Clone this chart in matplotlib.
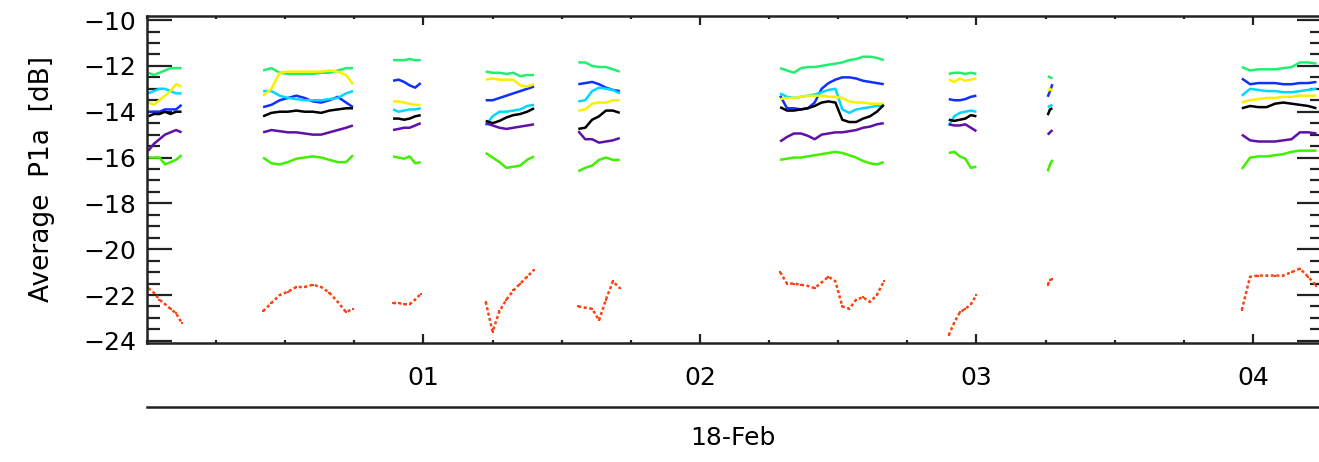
import numpy as np
import matplotlib
matplotlib.use("Agg")
import matplotlib.pyplot as plt
from matplotlib.lines import Line2D
from matplotlib.ticker import MultipleLocator

# time of day (hours after 00 UT, 18-Feb), one list per data segment
hours = [
    [0.005, 0.025, 0.045, 0.065, 0.085, 0.105, 0.125],
    [0.42, 0.45, 0.48, 0.51, 0.54, 0.57, 0.60, 0.63, 0.66, 0.69, 0.72, 0.745],
    [0.89, 0.91, 0.93, 0.95, 0.97, 0.99],
    [1.225, 1.25, 1.275, 1.30, 1.325, 1.35, 1.375, 1.40],
    [1.56, 1.585, 1.61, 1.635, 1.66, 1.685, 1.71],
    [2.29, 2.315, 2.34, 2.365, 2.39, 2.415, 2.44, 2.465, 2.49, 2.515, 2.54, 2.565, 2.59, 2.615, 2.64, 2.665],
    [2.90, 2.92, 2.94, 2.96, 2.98, 3.00],
    [3.258, 3.266, 3.275],
    [3.96, 3.99, 4.02, 4.05, 4.08, 4.11, 4.14, 4.17, 4.20, 4.23],
]

# average P1a [dB] per channel
spring = [
    [-12.3, -12.4, -12.3, -12.2, -12.1, -12.1, -12.1],
    [-12.2, -12.1, -12.3, -12.35, -12.35, -12.35, -12.35, -12.3, -12.3, -12.2, -12.1, -12.1],
    [-11.75, -11.75, -11.75, -11.7, -11.75, -11.75],
    [-12.25, -12.3, -12.3, -12.35, -12.3, -12.45, -12.4, -12.4],
    [-11.85, -11.85, -12.0, -12.05, -12.05, -12.15, -12.25],
    [-12.1, -12.2, -12.3, -12.1, -12.05, -12.05, -12.0, -11.95, -11.9, -11.85, -11.75, -11.7, -11.6, -11.6, -11.65, -11.75],
    [-12.35, -12.3, -12.3, -12.35, -12.3, -12.35],
    [-12.45, -12.5, -12.55],
    [-12.05, -12.2, -12.15, -12.15, -12.15, -12.1, -12.05, -11.85, -11.85, -11.9],
]
blue = [
    [-14.0, -14.0, -14.0, -13.9, -13.9, -13.9, -13.7],
    [-13.8, -13.7, -13.5, -13.4, -13.3, -13.4, -13.55, -13.6, -13.5, -13.35, -13.6, -13.8],
    [-12.65, -12.6, -12.7, -12.85, -12.95, -12.75],
    [-13.5, -13.5, -13.4, -13.3, -13.2, -13.1, -13.0, -12.9],
    [-12.8, -12.75, -12.7, -12.8, -12.95, -13.05, -13.1],
    [-13.3, -13.85, -13.85, -13.9, -13.85, -13.6, -13.0, -12.75, -12.6, -12.5, -12.5, -12.55, -12.65, -12.7, -12.75, -12.8],
    [-13.45, -13.5, -13.5, -13.45, -13.35, -13.3],
    [-13.35, -13.1, -12.8],
    [-12.55, -12.8, -12.75, -12.75, -12.75, -12.8, -12.8, -12.75, -12.75, -12.7],
]
cyan = [
    [-13.2, -13.1, -13.0, -13.0, -13.1, -13.2, -13.2],
    [-13.1, -13.1, -13.3, -13.4, -13.45, -13.5, -13.5, -13.5, -13.45, -13.4, -13.2, -13.1],
    [-13.9, -14.0, -13.95, -13.9, -13.9, -13.85],
    [-14.6, -14.2, -14.0, -14.0, -13.95, -13.9, -13.75, -13.7],
    [-13.55, -13.5, -13.1, -12.95, -13.0, -13.05, -13.2],
    [-13.2, -13.35, -13.4, -13.35, -13.3, -13.25, -13.15, -13.05, -13.0, -13.9, -14.05, -13.9, -13.85, -13.8, -13.75, -13.75],
    [-14.6, -14.2, -14.05, -14.0, -13.95, -14.0],
    [-13.8, -13.75, -13.7],
    [-13.3, -13.0, -13.05, -13.1, -13.1, -13.15, -13.15, -13.1, -13.05, -13.0],
]
yellow = [
    [-13.6, -13.7, -13.5, -13.3, -13.1, -12.8, -12.9],
    [-13.3, -13.0, -12.3, -12.25, -12.25, -12.25, -12.25, -12.25, -12.2, -12.25, -12.4, -12.8],
    [-13.55, -13.55, -13.6, -13.65, -13.7, -13.7],
    [-12.6, -12.55, -12.6, -12.6, -12.6, -12.85, -12.9, -12.8],
    [-13.95, -13.9, -13.65, -13.6, -13.6, -13.5, -13.5],
    [-13.45, -13.4, -13.4, -13.35, -13.3, -13.3, -13.3, -13.35, -13.35, -13.4, -13.55, -13.6, -13.6, -13.65, -13.65, -13.65],
    [-12.6, -12.7, -12.55, -12.65, -12.6, -12.55],
    [-13.1, -13.0, -13.1],
    [-13.6, -13.5, -13.45, -13.4, -13.4, -13.35, -13.35, -13.3, -13.3, -13.3],
]
black = [
    [-14.2, -14.1, -14.1, -14.0, -14.1, -14.0, -14.0],
    [-14.2, -14.05, -14.0, -14.0, -13.95, -14.0, -14.0, -14.05, -13.95, -13.9, -13.85, -13.85],
    [-14.3, -14.3, -14.35, -14.3, -14.2, -14.15],
    [-14.4, -14.5, -14.4, -14.25, -14.15, -14.1, -14.0, -13.85],
    [-14.75, -14.7, -14.35, -14.2, -13.95, -13.95, -14.05],
    [-13.8, -13.95, -13.95, -13.9, -13.85, -13.75, -13.6, -13.55, -13.6, -14.35, -14.45, -14.45, -14.3, -14.2, -14.0, -13.7],
    [-14.35, -14.4, -14.35, -14.3, -14.15, -14.2],
    [-14.15, -13.9, -13.85],
    [-13.85, -13.75, -13.8, -13.8, -13.65, -13.6, -13.65, -13.7, -13.75, -13.85],
]
purple = [
    [-15.7, -15.4, -15.2, -15.0, -14.9, -14.8, -14.9],
    [-14.9, -14.8, -14.85, -14.9, -14.9, -14.95, -15.0, -15.0, -14.9, -14.8, -14.7, -14.6],
    [-14.8, -14.75, -14.7, -14.7, -14.6, -14.5],
    [-14.5, -14.6, -14.7, -14.75, -14.7, -14.65, -14.6, -14.55],
    [-14.85, -15.2, -15.2, -15.35, -15.3, -15.25, -15.15],
    [-15.3, -15.1, -14.95, -14.95, -15.05, -15.2, -15.0, -14.95, -14.9, -14.9, -14.85, -14.8, -14.7, -14.65, -14.55, -14.5],
    [-14.55, -14.6, -14.6, -14.55, -14.7, -14.85],
    [-15.0, -14.9, -14.8],
    [-15.0, -15.25, -15.3, -15.3, -15.3, -15.25, -15.2, -14.9, -14.9, -14.95],
]
green = [
    [-16.0, -16.0, -16.0, -16.3, -16.2, -16.1, -15.9],
    [-16.0, -16.25, -16.3, -16.2, -16.05, -16.0, -15.95, -16.0, -16.1, -16.2, -16.2, -15.9],
    [-15.95, -16.0, -16.05, -15.95, -16.25, -16.2],
    [-15.8, -16.0, -16.2, -16.45, -16.4, -16.35, -16.1, -15.95],
    [-16.6, -16.45, -16.35, -16.1, -16.0, -16.1, -16.1],
    [-16.1, -16.05, -16.0, -16.0, -15.95, -15.9, -15.85, -15.8, -15.75, -15.8, -15.9, -16.0, -16.15, -16.25, -16.3, -16.2],
    [-15.8, -15.75, -15.95, -16.05, -16.45, -16.4],
    [-16.6, -16.3, -16.1],
    [-16.5, -16.0, -15.95, -15.95, -15.9, -15.85, -15.75, -15.7, -15.7, -15.7],
]
orange = [
    [-21.7, -21.9, -22.2, -22.4, -22.6, -22.8, -23.2],
    [-22.7, -22.35, -22.0, -21.85, -21.65, -21.65, -21.55, -21.65, -21.9, -22.3, -22.75, -22.6],
    [-22.35, -22.35, -22.4, -22.4, -22.2, -21.95],
    [-22.3, -23.6, -22.7, -22.2, -21.8, -21.5, -21.2, -20.9],
    [-22.5, -22.55, -22.6, -23.1, -22.2, -21.4, -21.7],
    [-21.0, -21.5, -21.5, -21.55, -21.6, -21.7, -21.45, -21.2, -21.4, -22.5, -22.6, -22.2, -22.1, -22.3, -22.0, -21.4],
    [-23.75, -23.2, -22.75, -22.6, -22.4, -22.0],
    [-21.55, -21.35, -21.3],
    [-22.65, -21.2, -21.15, -21.15, -21.15, -21.15, -21.0, -20.85, -21.2, -21.6],
]

xtick_pos = [1, 2, 3, 4]
xtick_labels = ["01", "02", "03", "04"]
date_label = "18-Feb"

plt.rcParams["font.family"] = "DejaVu Sans"

W, H = 1319, 462
fig = plt.figure(figsize=(W / 100, H / 100), dpi=100)
ax = fig.add_axes([147 / W, 1 - 342.7 / H, (1322 - 147) / W, (342.7 - 15.7) / H])

series = [
    (spring, "#20f070"),
    (blue, "#1030ff"),
    (cyan, "#00d8ff"),
    (yellow, "#f8f000"),
    (black, "#000000"),
    (purple, "#6010a8"),
    (green, "#40f000"),
]
for data, col in series:
    for t, v in zip(hours, data):
        ax.plot(t, v, color=col, lw=1.8, solid_capstyle="butt")
for t, v in zip(hours, orange):
    ax.plot(t, v, color="#ff4010", lw=1.8, linestyle=(0, (1.2, 1.0)),
            marker="s", ms=2, markeredgewidth=0)

ax.set_xlim(0, 4.25)
ax.set_ylim(-24.08, -9.81)

ax.xaxis.set_major_locator(MultipleLocator(1))
ax.xaxis.set_minor_locator(MultipleLocator(0.25))
ax.set_xticks(xtick_pos)
ax.set_xticklabels(xtick_labels)
ax.yaxis.set_major_locator(MultipleLocator(2))
ax.yaxis.set_minor_locator(MultipleLocator(0.5))

ax.tick_params(axis="both", which="both", direction="in", top=True, right=True,
               width=1.6, color="#222222")
ax.tick_params(axis="y", which="major", length=18, labelsize=18, pad=8)
ax.tick_params(axis="y", which="minor", length=9)
ax.tick_params(axis="x", which="major", length=6.5, labelsize=18, pad=17)
ax.tick_params(axis="x", which="minor", length=2.5)
for s in ax.spines.values():
    s.set_linewidth(1.8)
    s.set_color("#222222")

ax.set_ylabel("Average  P1a  [dB]", fontsize=19, labelpad=20)

# second time axis line with the date
fig.add_artist(Line2D([147 / W, 1.0], [1 - 407 / H, 1 - 407 / H],
                      color="#222222", lw=1.8))
fig.text((147 + 1319) / 2 / W, 1 - 438 / H, date_label, fontsize=18,
         ha="center", va="center")

fig.savefig("out.png", dpi=100)
